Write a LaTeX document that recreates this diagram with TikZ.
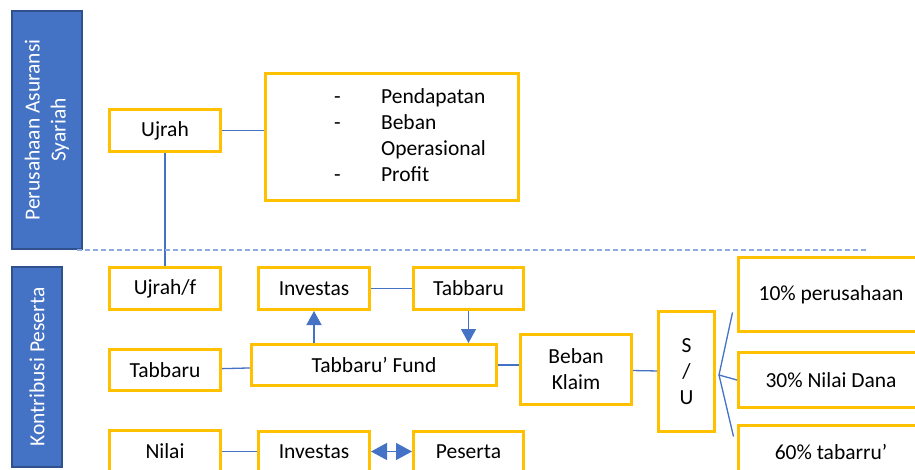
\documentclass[tikz,border=0pt]{standalone}
\usepackage{fontspec}
\setmainfont{Carlito}
\usetikzlibrary{positioning,calc,arrows.meta}
\definecolor{kuning}{HTML}{FFC000}
\definecolor{biru}{HTML}{4472C4}
\definecolor{birutua}{HTML}{2F528F}
\definecolor{birumuda}{HTML}{8FAADC}

\begin{document}
\begin{tikzpicture}[x=1pt, y=-1pt, font=\fontsize{21.5}{26}\selectfont, node distance=37pt,
	box/.style={draw=kuning, line width=3pt, fill=white, inner sep=0pt, align=center, minimum width=111pt, minimum height=42pt},
	bar/.style={draw=birutua, line width=2pt, fill=biru, text=white, rotate=90, align=center, inner sep=0pt},
	link/.style={draw=biru, line width=1.3pt},
	panah/.style={-{Triangle[width=15pt,length=14pt]}},
	dua/.style={{Triangle[width=17pt,length=16pt]}-{Triangle[width=17pt,length=16pt]}}]
	\useasboundingbox (0,0) rectangle (915,470);
	\clip (0,0) rectangle (915,470);
	\node[bar, minimum width=238pt, minimum height=70pt] (perusahaan) at (47,130) {Perusahaan Asuransi\\Syariah};
	\node[bar, minimum width=200pt, minimum height=50pt] (kontribusi) at (37,367) {Kontribusi Peserta};
	\node[box] (ujrah) at (165,130.5) {Ujrah};
	\node[box, minimum width=253pt, minimum height=127pt] (biaya) at (392,137) {\begin{tabular}{@{\hspace{36pt}}p{47pt}@{}l@{}}-&Pendapatan\\-&Beban\\&Operasional\\-&Profit\end{tabular}};
	\node[box] (ujrahF) at (165,288.5) {Ujrah/f};
	\node[box, right=35pt of ujrahF] (investA) {Investas};
	\node[box, minimum width=110pt, right=41pt of investA] (tabbaruA) {Tabbaru};
	\node[box, minimum height=41pt, below=of ujrahF] (tabbaruL) {Tabbaru};
	\node[box, below=of tabbaruL] (nilai) {Nilai};
	\node[box, minimum height=41pt, right=35pt of nilai] (investB) {Investas};
	\node[box, minimum width=110pt, minimum height=41pt, right=41pt of investB] (peserta) {Peserta};
	\node[box, minimum width=245pt, minimum height=41pt] (fund) at (374,365) {Tabbaru’ Fund};
	\node[box, minimum height=70pt] (beban) at (576,369.5) {Beban\\Klaim};
	\node[box, minimum width=56pt, minimum height=120pt] (su) at (686.5,371.5) {S\\/\\U};
	\node[box, minimum width=185pt, minimum height=74pt] (p10) at (831,294.5) {10\% perusahaan};
	\node[box, minimum width=185pt, minimum height=55pt] (p30) at (831,380) {30\% Nilai Dana};
	\node[box, minimum width=185pt, minimum height=53pt] (p60) at (831,452) {60\% tabarru’};
	\coordinate (cabang) at (719,375);
	\draw[link] (ujrah.east) -- (ujrah.east -| biaya.west);
	\draw[link] (ujrah) -- (ujrahF);
	\draw[link] (investA) -- (tabbaruA);
	\draw[link, panah] (fund.north -| investA) -- (investA);
	\draw[link, panah] (tabbaruA) -- (tabbaruA |- fund.north);
	\draw[link] (tabbaruL) -- (fund);
	\draw[link] (nilai) -- (investB);
	\draw[link, dua] (investB) -- (peserta);
	\draw[link] (fund.east) -- (fund.east -| beban.west);
	\draw[link] (beban) -- (su);
	\draw[link] ($(p10.south west)+(-4.5,-20.5)$) -- (cabang) -- (p30.west);
	\draw[link] (cabang) -- ($(p60.north west)+(-3.5,12.5)$);
	\draw[birumuda, line width=1.5pt, dash pattern=on 5pt off 3pt] (77,250) -- (867,250);
\end{tikzpicture}
\end{document}
